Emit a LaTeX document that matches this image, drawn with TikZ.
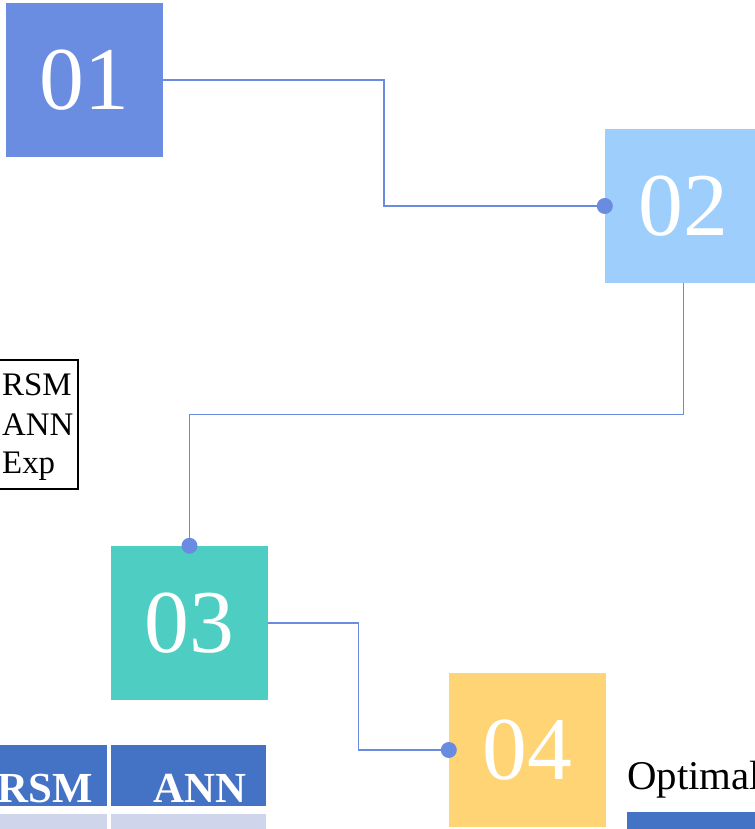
\documentclass[tikz,border=0pt]{standalone}
\usepackage{fontspec}
\setmainfont{Liberation Serif}
\usetikzlibrary{calc}
\definecolor{boxA}{HTML}{6A8DE1}
\definecolor{boxB}{HTML}{9ECFFC}
\definecolor{boxC}{HTML}{4ECEC3}
\definecolor{boxD}{HTML}{FED475}
\definecolor{linkcol}{HTML}{6A8CE0}
\definecolor{headblue}{HTML}{4472C4}
\definecolor{rowlight}{HTML}{CFD5EA}
\newcommand{\stepnum}[1]{\raisebox{-3bp}{#1}}
\tikzset{
  stepbox/.style={rectangle, minimum width=157bp, minimum height=154bp, inner sep=0pt,
    draw=none, text=white, font=\fontsize{90}{90}\selectfont},
  link/.style={draw=linkcol, line width=1.7bp},
  linkdot/.style={fill=linkcol, draw=none},
  legendtext/.style={anchor=base west, inner sep=0pt, font=\fontsize{33}{33}\selectfont},
  headtext/.style={anchor=base east, inner sep=0pt, text=white, font=\fontsize{43}{43}\selectfont\bfseries},
}
\begin{document}
\begin{tikzpicture}[x=1bp, y=-1bp]
\clip (0,0) rectangle (755,829);
\fill[white] (0,0) rectangle (755,829);

% step boxes
\node[stepbox, fill=boxA] (n01) at (84.5,80) {\stepnum{01}};
\node[stepbox, fill=boxB] (n02) at (683.5,206) {\stepnum{02}};
\node[stepbox, fill=boxC] (n03) at (189.5,623) {\stepnum{03}};
\node[stepbox, fill=boxD] (n04) at (527.5,750) {\stepnum{04}};

% elbow connectors
\draw[link] (n01.east) -| ($(n01.east)!.5!(n02.west)$) |- (n02.west);
\draw[link] (n02.south) |- ($(n02.south)!.5!(n03.north)$) -| (n03.north);
\draw[link] (n03.east) -| ($(n03.east)!.5!(n04.west)$) |- (n04.west);
\fill[linkdot] (n02.west) circle (8);
\fill[linkdot] (n03.north) circle (8);
\fill[linkdot] (n04.west) circle (8);

% legend
\draw[black, line width=1.3bp] (-40,360) rectangle (78,489);
\node[legendtext] (lg1) at (2,395) {RSM};
\node[legendtext] (lg2) at (2,435) {ANN};
\node[legendtext] (lg3) at (2,473) {Exp};

% table
\fill[headblue] (-60,745) rectangle (107,806);
\fill[headblue] (111,745) rectangle (266,806);
\fill[rowlight] (-60,814) rectangle (107,840);
\fill[rowlight] (111,814) rectangle (266,840);
\node[headtext] (th1) at (93,802) {RSM};
\node[headtext] (th2) at (247,802) {ANN};

% optimal label and bar
\node[anchor=base west, inner sep=0pt, font=\fontsize{41}{41}\selectfont] (opt) at (627,789) {Optimal};
\fill[headblue] (627,812) rectangle (800,840);
\end{tikzpicture}
\end{document}
